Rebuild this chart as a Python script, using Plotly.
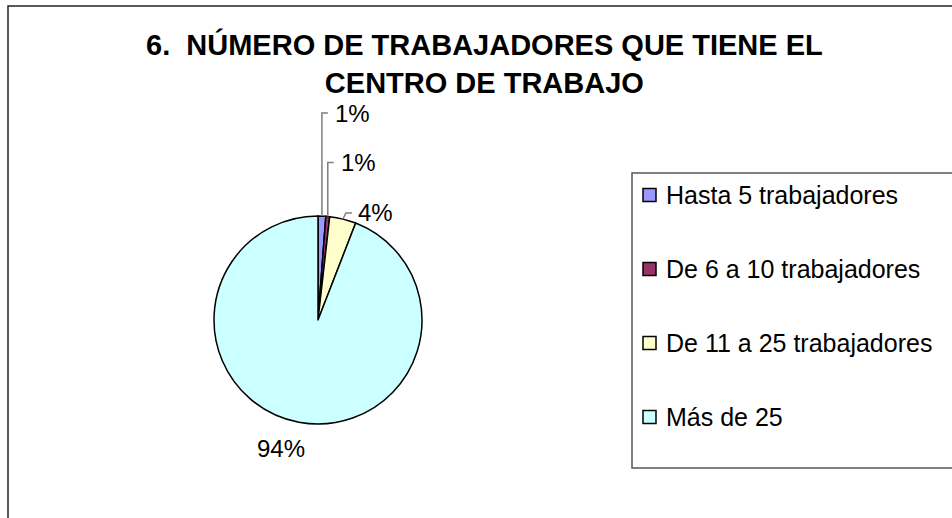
import math
import plotly.graph_objects as go

# ---- data ----
categories = ["Hasta 5 trabajadores", "De 6 a 10 trabajadores",
              "De 11 a 25 trabajadores", "Más de 25"]
values = [1.2, 0.6, 4.1, 94.1]
colors = ["#9999FF", "#993366", "#FFFFCC", "#CCFFFF"]
title_text = "6.\u00a0 NÚMERO DE TRABAJADORES QUE TIENE EL<br>CENTRO DE TRABAJO"

W, H = 952, 518
FONT = "Liberation Sans, Arial, sans-serif"


def px(x):
    return x / W


def py(y):
    return 1 - y / H


# pie placement (pixels)
cx, cy, r = 318, 320, 104

fig = go.Figure(go.Pie(
    labels=categories, values=values, sort=False, direction="clockwise",
    rotation=0, textinfo="none", hoverinfo="label+percent",
    marker=dict(colors=colors, line=dict(color="black", width=1.5)),
    domain=dict(x=[px(cx - r), px(cx + r)], y=[py(cy + r), py(cy - r)]),
    showlegend=False,
))

shapes = []
annotations = []

# outer frame
shapes.append(dict(type="rect", xref="paper", yref="paper",
                   x0=px(8), x1=px(W + 20), y0=py(H + 20), y1=py(6),
                   line=dict(color="#222222", width=1.5)))

# labels with leader lines computed from slice mid-angles
# style per slice: (rise, dx_bend, tick_len, label_dx, label_dy, leader)
label_style = [
    (103, 0, 6, 5, 0, True),
    (54, 0, 6, 5, 0, True),
    (6, 3, 6, 4, -1, True),
    (0, 0, 0, -18, 26, False),
]
total = sum(values)
cum = 0.0
for v, st in zip(values, label_style):
    mid = (cum + v / 2) / total * 2 * math.pi
    cum += v
    ex = cx + r * math.sin(mid)
    ey = cy - r * math.cos(mid)
    pct = f"{round(100 * v / total)}%"
    rise, dxb, tick, ldx, ldy, leader = st
    if leader:
        bx, by = ex + dxb, ey - rise
        tx = bx + tick
        shapes.append(dict(type="path", xref="paper", yref="paper",
                           path=f"M {px(ex)} {py(ey)} L {px(bx)} {py(by)} L {px(tx)} {py(by)}",
                           line=dict(color="#7f7f7f", width=1.5)))
        annotations.append(dict(x=px(tx + ldx), y=py(by + ldy), xref="paper", yref="paper",
                                text=pct, showarrow=False, xanchor="left", yanchor="middle",
                                font=dict(family=FONT, size=24, color="black")))
    else:
        annotations.append(dict(x=px(ex + ldx), y=py(ey + ldy), xref="paper", yref="paper",
                                text=pct, showarrow=False, xanchor="center", yanchor="middle",
                                font=dict(family=FONT, size=24, color="black")))

# legend (custom box)
lg_x0, lg_y0, lg_y1 = 632, 173, 468
shapes.append(dict(type="rect", xref="paper", yref="paper",
                   x0=px(lg_x0), x1=px(W + 20), y0=py(lg_y1), y1=py(lg_y0),
                   line=dict(color="#555555", width=1.5), fillcolor="white", layer="below"))
row0, row_gap = 195, 74
for i, (cat, col) in enumerate(zip(categories, colors)):
    yc = row0 + i * row_gap
    shapes.append(dict(type="rect", xref="paper", yref="paper",
                       x0=px(643), x1=px(656), y0=py(yc + 6.5), y1=py(yc - 6.5),
                       fillcolor=col, line=dict(color="black", width=1.5)))
    annotations.append(dict(x=px(664), y=py(yc), xref="paper", yref="paper",
                            text=cat, showarrow=False, xanchor="left", yanchor="middle",
                            font=dict(family=FONT, size=25, color="black")))

# title
annotations.append(dict(x=px(485), y=py(26), xref="paper", yref="paper",
                        text=title_text, showarrow=False, xanchor="center", yanchor="top",
                        font=dict(family=FONT, size=29, color="black", weight="bold")))

fig.update_layout(
    width=W, height=H, margin=dict(l=0, r=0, t=0, b=0),
    paper_bgcolor="white", plot_bgcolor="white",
    shapes=shapes, annotations=annotations,
)

fig.write_html("out.html", config={"displayModeBar": False},
               post_script="document.body.style.margin='0';document.body.style.overflow='hidden';")
